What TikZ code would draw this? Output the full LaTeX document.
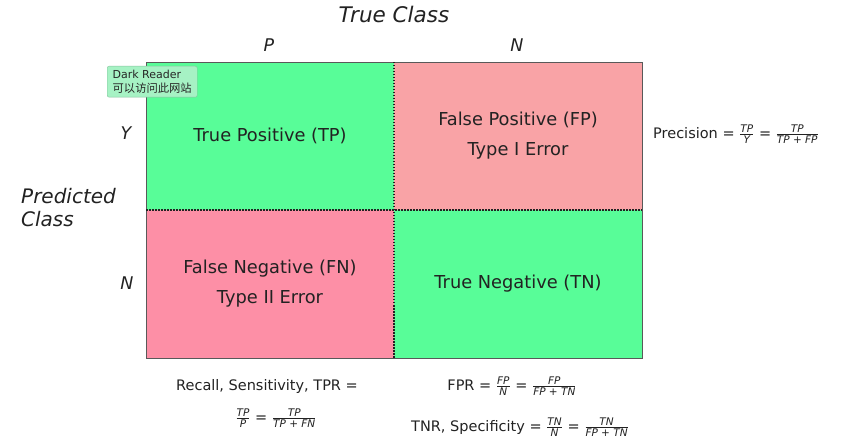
\documentclass[tikz,border=0pt]{standalone}
\usepackage{fontspec}
\setmainfont{DejaVu Sans}
\newfontfamily\cjk{Noto Sans CJK SC}
\usepackage{xcolor}
\usetikzlibrary{positioning}
\definecolor{cellgreen}{HTML}{58FD98}
\definecolor{cellsalmon}{HTML}{F9A3A6}
\definecolor{cellpink}{HTML}{FD8FA6}
\definecolor{tipgreen}{HTML}{A6F2C4}
\definecolor{inkgray}{HTML}{222222}
\newcommand{\fracrate}[2]{$\frac{\mbox{\fontsize{10.5}{10.5}\selectfont\itshape #1}}{\mbox{\fontsize{10.5}{10.5}\selectfont\itshape #2}}$}

\begin{document}
\begin{tikzpicture}[x=1pt, y=-1pt, text=inkgray,
    cell/.style={minimum width=248pt, minimum height=148pt, inner sep=0pt, outer sep=0pt,
                 align=center, font=\fontsize{17.8}{30}\selectfont},
    axislabel/.style={font=\fontsize{17.5}{21}\selectfont\itshape},
    metric/.style={font=\fontsize{14.5}{18}\selectfont, inner sep=1pt}]
  \useasboundingbox (0,0) rectangle (849,446);

  % the four cells
  \node[cell, fill=cellgreen]  (tp) at (270,136) {True Positive (TP)};
  \node[cell, fill=cellsalmon] (fp) at (518,136) {False Positive (FP)\\Type I Error};
  \node[cell, fill=cellpink]   (fn) at (270,284) {False Negative (FN)\\Type II Error};
  \node[cell, fill=cellgreen]  (tn) at (518,284) {True Negative (TN)};

  \draw[gray!70!black, line width=0.8pt] (tp.north west) rectangle (tn.south east);
  \draw[inkgray, line width=1.1pt, dash pattern=on 1.5pt off 1.5pt] (tp.north east) -- (fn.south east);
  \draw[inkgray, line width=1.1pt, dash pattern=on 1.5pt off 1.5pt] (tp.south west) -- (fp.south east);

  % axis labels
  \node[font=\fontsize{21.5}{24}\selectfont\itshape] (trueclass) at (394,14) {True Class};
  \node[axislabel] (colp) at (269,45) {P};
  \node[axislabel] (coln) at (517,45) {N};
  \node[axislabel] (rowy) at (126,133) {Y};
  \node[axislabel] (rown) at (127,283) {N};
  \node[font=\fontsize{20}{23}\selectfont\itshape, align=left, anchor=west, inner sep=0pt]
    (predclass) at (21,208) {Predicted\\Class};

  % metrics
  \node[metric, anchor=west] (prec) at (652,134) {Precision = \fracrate{TP}{Y} = \fracrate{TP}{TP + FP}};
  \node[metric] (recall) at (267,386) {Recall, Sensitivity, TPR =};
  \node[metric] (recallfrac) at (276,418) {\fracrate{TP}{P} = \fracrate{TP}{TP + FN}};
  \node[metric] (fpr) at (512,386) {FPR = \fracrate{FP}{N} = \fracrate{FP}{FP + TN}};
  \node[metric] (tnr) at (520,427) {TNR, Specificity = \fracrate{TN}{N} = \fracrate{TN}{FP + TN}};

  % browser tooltip
  \node[fill=tipgreen, draw=tipgreen!80!black, line width=0.4pt, rounded corners=2pt,
        anchor=north west, align=left, inner xsep=5pt, inner ysep=3pt,
        minimum width=90pt, minimum height=31pt,
        font=\fontsize{11}{14}\selectfont, text=black!85]
    (tooltip) at (107,66) {Dark Reader\\{\cjk\fontsize{11.3}{14}\selectfont 可以访问此网站}};
\end{tikzpicture}
\end{document}
